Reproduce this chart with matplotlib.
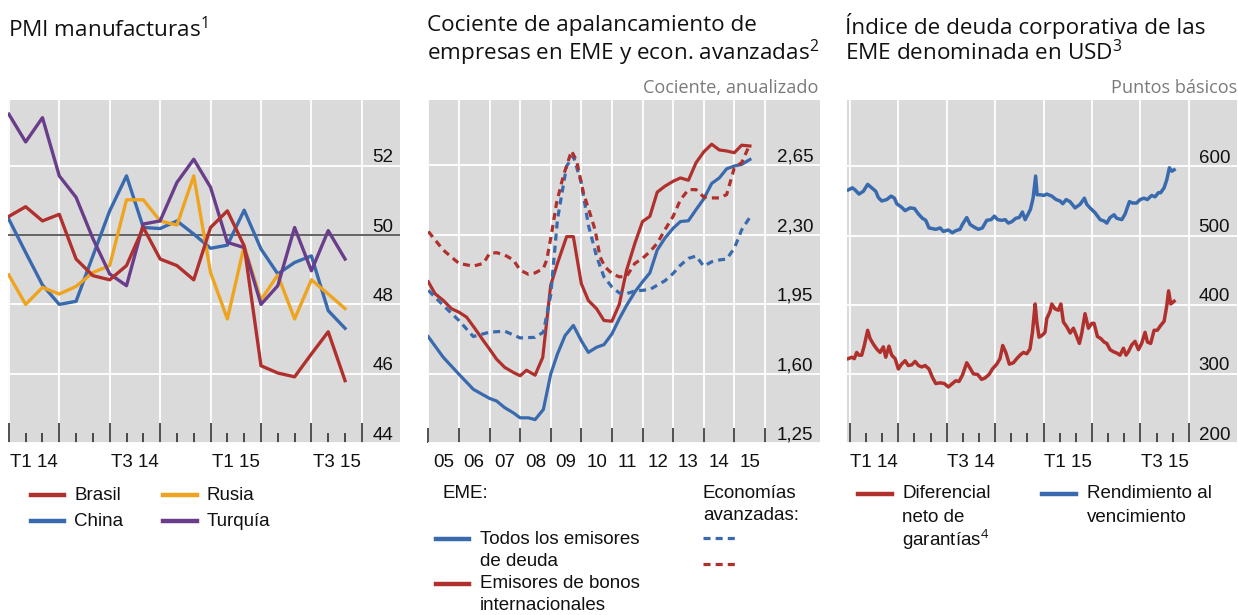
import numpy as np
import matplotlib
matplotlib.use('Agg')
import matplotlib.pyplot as plt
from matplotlib.lines import Line2D
from matplotlib.transforms import blended_transform_factory

W, H = 1238, 615

plt.rcParams['mathtext.fontset'] = 'custom'
plt.rcParams['mathtext.rm'] = 'Open Sans'
plt.rcParams['mathtext.it'] = 'Open Sans:italic'
plt.rcParams['mathtext.bf'] = 'Open Sans:bold'

# colours
RED = '#B0302E'
BLUE = '#3A6AAE'
ORANGE = '#EFA420'
PURPLE = '#6A3D8A'
BG = '#DADADA'

# ---- panel 1: PMI manufacturas (monthly, Jan 2014 - Sep 2015)
pmi_brasil = [50.54, 50.82, 50.41, 50.6, 49.31, 48.83, 48.71, 49.12, 50.22, 49.31, 49.12,
              48.71, 50.22, 50.7, 49.69, 46.23, 46.02, 45.91, 46.57, 47.21, 45.8]
pmi_china = [50.46, 49.5, 48.56, 48.0, 48.09, 49.4, 50.7, 51.71, 50.22, 50.19, 50.41,
             50.03, 49.62, 49.71, 50.72, 49.6, 48.88, 49.21, 49.4, 47.82, 47.31]
pmi_rusia = [48.85, 48.0, 48.49, 48.3, 48.52, 48.92, 49.12, 51.02, 51.02, 50.41, 50.29,
             51.71, 48.92, 47.58, 49.69, 48.13, 48.85, 47.58, 48.71, 48.3, 47.88]
pmi_turquia = [53.49, 52.69, 53.39, 51.71, 51.09, 49.9, 48.88, 48.54, 50.32, 50.41, 51.52,
               52.19, 51.38, 49.79, 49.64, 48.0, 48.54, 50.22, 48.97, 50.13, 49.31]
pmi_yticks = [44, 46, 48, 50, 52]
q_labels = ['T1 14', 'T3 14', 'T1 15', 'T3 15']

# ---- panel 2: leverage ratio (quarterly)
lev_eme_all_x = [2005.0, 2005.49, 2006.0, 2006.47, 2007.0, 2007.23, 2007.5, 2007.78, 2008.0,
                 2008.27, 2008.49, 2008.76, 2009.0, 2009.22, 2009.47, 2009.74, 2010.0, 2010.23,
                 2010.5, 2010.74, 2011.0, 2011.24, 2011.48, 2011.75, 2012.0, 2012.24, 2012.48,
                 2012.73, 2013.0, 2013.24, 2013.5, 2013.75, 2014.0, 2014.26, 2014.51, 2014.75,
                 2015.0, 2015.24, 2015.51]
lev_eme_all = [1.786, 1.682, 1.597, 1.521, 1.475, 1.462, 1.428, 1.402, 1.377, 1.377, 1.368,
               1.419, 1.597, 1.699, 1.792, 1.843, 1.766, 1.707, 1.733, 1.746, 1.8, 1.876,
               1.944, 2.012, 2.063, 2.108, 2.223, 2.283, 2.333, 2.367, 2.371, 2.427, 2.481,
               2.559, 2.587, 2.633, 2.647, 2.655, 2.68]
lev_eme_bond_x = [2005.0, 2005.22, 2005.49, 2005.76, 2006.0, 2006.25, 2006.53, 2006.8, 2007.0,
                  2007.23, 2007.5, 2007.78, 2008.0, 2008.21, 2008.49, 2008.74, 2009.0, 2009.22,
                  2009.52, 2009.74, 2010.0, 2010.23, 2010.5, 2010.74, 2011.0, 2011.24, 2011.48,
                  2011.75, 2012.0, 2012.24, 2012.48, 2012.73, 2013.0, 2013.24, 2013.5, 2013.75,
                  2014.0, 2014.26, 2014.51, 2014.75, 2015.0, 2015.24, 2015.51]
lev_eme_bond = [2.063, 2.003, 1.969, 1.927, 1.91, 1.885, 1.826, 1.766, 1.724, 1.673, 1.631,
                1.606, 1.589, 1.617, 1.592, 1.682, 2.046, 2.156, 2.291, 2.291, 2.054, 1.969,
                1.927, 1.868, 1.864, 1.949, 2.122, 2.257, 2.367, 2.393, 2.515, 2.545, 2.57,
                2.587, 2.575, 2.664, 2.718, 2.757, 2.728, 2.723, 2.714, 2.752, 2.748]
lev_ae_all_x = [2005.0, 2005.49, 2006.0, 2006.47, 2007.0, 2007.5, 2008.0, 2008.49, 2008.76,
                2009.0, 2009.22, 2009.52, 2009.74, 2010.0, 2010.23, 2010.5, 2010.74, 2011.0,
                2011.24, 2011.48, 2011.75, 2012.0, 2012.24, 2012.48, 2012.73, 2013.0, 2013.24,
                2013.5, 2013.75, 2014.0, 2014.26, 2014.51, 2014.75, 2015.0, 2015.24, 2015.51]
lev_ae_all = [2.02, 1.944, 1.868, 1.787, 1.809, 1.814, 1.78, 1.783, 1.809, 1.995, 2.376,
              2.647, 2.697, 2.562, 2.35, 2.19, 2.088, 2.037, 2.007, 2.003, 2.017, 2.02, 2.024,
              2.046, 2.068, 2.105, 2.147, 2.181, 2.193, 2.142, 2.164, 2.173, 2.178, 2.232,
              2.325, 2.389]
lev_ae_bond_x = [2005.0, 2005.49, 2006.0, 2006.47, 2006.8, 2007.0, 2007.23, 2007.5, 2007.78,
                 2008.0, 2008.27, 2008.49, 2008.76, 2008.87, 2009.03, 2009.19, 2009.41, 2009.68,
                 2009.85, 2010.07, 2010.28, 2010.45, 2010.61, 2010.77, 2011.0, 2011.24, 2011.48,
                 2011.75, 2012.0, 2012.24, 2012.48, 2012.73, 2013.0, 2013.24, 2013.5, 2013.75,
                 2014.0, 2014.26, 2014.51, 2014.75, 2015.0, 2015.24, 2015.51]
lev_ae_bond = [2.317, 2.223, 2.156, 2.142, 2.156, 2.206, 2.21, 2.198, 2.173, 2.122, 2.101,
               2.108, 2.13, 2.173, 2.308, 2.46, 2.596, 2.723, 2.672, 2.511, 2.41, 2.325, 2.19,
               2.139, 2.105, 2.088, 2.091, 2.156, 2.181, 2.215, 2.257, 2.325, 2.393, 2.477,
               2.528, 2.528, 2.491, 2.486, 2.486, 2.503, 2.638, 2.664, 2.757]
lev_yticks = [1.25, 1.60, 1.95, 2.30, 2.65]
lev_ylabels = ['1,25', '1,60', '1,95', '2,30', '2,65']
year_labels = ['05', '06', '07', '08', '09', '10', '11', '12', '13', '14', '15']

# ---- panel 3: EME USD corporate index (months since Jan 2014)
spread_x = [-0.1, 0.11, 0.27, 0.42, 0.56, 0.73, 0.89, 1.1, 1.25, 1.45, 1.66, 1.87, 2.07, 2.22,
            2.42, 2.59, 2.8, 3.0, 3.2, 3.42, 3.62, 3.83, 4.04, 4.25, 4.45, 4.66, 4.9, 5.11,
            5.32, 5.59, 5.85, 6.1, 6.35, 6.56, 6.76, 6.97, 7.24, 7.45, 7.65, 7.92, 8.16, 8.37,
            8.62, 8.83, 9.1, 9.3, 9.47, 9.66, 9.88, 10.13, 10.34, 10.54, 10.75, 10.96, 11.16,
            11.31, 11.48, 11.58, 11.72, 11.93, 12.09, 12.2, 12.4, 12.51, 12.71, 12.92, 13.07,
            13.23, 13.44, 13.65, 13.85, 14.02, 14.22, 14.37, 14.57, 14.78, 14.99, 15.13, 15.34,
            15.55, 15.75, 15.92, 16.12, 16.33, 16.54, 16.74, 16.95, 17.11, 17.26, 17.47, 17.67,
            17.88, 18.08, 18.29, 18.44, 18.64, 18.85, 19.05, 19.26, 19.47, 19.64, 19.75, 19.88,
            20.09]
spread = [322, 324, 322, 331, 327, 327, 341, 363, 351, 343, 336, 331, 339, 324, 340, 327, 322,
          307, 314, 319, 312, 313, 318, 312, 310, 312, 307, 295, 286, 287, 286, 281, 286, 290,
          289, 298, 316, 308, 300, 299, 292, 294, 299, 307, 314, 322, 341, 331, 314, 316, 322,
          327, 331, 329, 336, 360, 401, 375, 353, 356, 360, 380, 390, 401, 394, 392, 401, 375,
          368, 359, 366, 356, 344, 359, 387, 366, 373, 373, 354, 351, 346, 344, 335, 332, 330,
          327, 337, 327, 332, 342, 347, 335, 344, 360, 346, 344, 363, 363, 370, 376, 399, 420,
          401, 405]
ytm_x = [-0.1, 0.15, 0.32, 0.56, 0.83, 1.1, 1.35, 1.6, 1.76, 1.97, 2.28, 2.55, 2.76, 2.9, 3.2,
         3.42, 3.73, 4.0, 4.25, 4.49, 4.7, 4.9, 5.11, 5.32, 5.59, 5.79, 6.1, 6.35, 6.56, 6.82,
         6.97, 7.24, 7.45, 7.71, 7.96, 8.21, 8.48, 8.75, 8.95, 9.16, 9.41, 9.62, 9.82, 10.03,
         10.28, 10.49, 10.69, 10.86, 11.02, 11.19, 11.35, 11.51, 11.6, 11.78, 12.03, 12.2,
         12.51, 12.78, 13.02, 13.19, 13.4, 13.64, 13.95, 14.26, 14.53, 14.68, 14.88, 15.19,
         15.51, 15.75, 15.92, 16.12, 16.37, 16.53, 16.85, 17.05, 17.32, 17.52, 17.77, 17.98,
         18.23, 18.43, 18.7, 18.91, 19.12, 19.26, 19.47, 19.64, 19.8, 19.95, 20.09]
ytm = [566, 569, 566, 560, 564, 574, 569, 564, 555, 550, 552, 557, 554, 546, 541, 536, 540,
       539, 531, 525, 522, 511, 510, 509, 511, 506, 508, 504, 507, 509, 516, 526, 516, 512,
       509, 511, 522, 523, 528, 523, 522, 523, 518, 520, 525, 526, 534, 523, 530, 538, 554,
       586, 559, 559, 558, 560, 557, 552, 550, 546, 552, 549, 540, 545, 554, 545, 540, 533,
       523, 521, 518, 526, 530, 525, 523, 531, 549, 547, 547, 552, 554, 552, 558, 556, 562,
       562, 569, 581, 598, 593, 595]
idx_yticks = [200, 300, 400, 500, 600]

SANS = ['Liberation Sans', 'DejaVu Sans']
TITLE = ['Open Sans', 'DejaVu Sans']
FS = 13.5

fig = plt.figure(figsize=(W / 100, H / 100), dpi=100)


def add_ax(left, right, top=100, bottom=443):
    return fig.add_axes([left / W, 1 - bottom / H, (right - left) / W, (bottom - top) / H])


def style(ax, yticks, ylabels, major_len, minor_len=0):
    ax.set_facecolor(BG)
    for s in ax.spines.values():
        s.set_visible(False)
    ax.set_yticks(yticks)
    ax.tick_params(axis='y', length=0, labelleft=False)
    ax.tick_params(axis='x', which='major', direction='in', length=major_len, width=1.1,
                   color='#222222', labelbottom=False)
    ax.tick_params(axis='x', which='minor', direction='in', length=minor_len, width=1.1,
                   color='#222222')
    ax.grid(True, which='major', color='white', linewidth=1.3)
    ax.set_axisbelow(True)
    tr = blended_transform_factory(ax.transAxes, ax.transData)
    for v, lab in zip(yticks, ylabels):
        ax.annotate(lab, xy=(0.983, v), xycoords=tr, xytext=(0, 2.5),
                    textcoords='offset points', ha='right', va='baseline',
                    fontsize=FS, family=SANS, color='#111111')


def xlabels(ax, positions, labels):
    tr = blended_transform_factory(ax.transData, ax.transAxes)
    for p, lab in zip(positions, labels):
        ax.annotate(lab, xy=(p, 0), xycoords=tr, xytext=(0, -14),
                    textcoords='offset points', ha='center', va='center',
                    fontsize=FS, family=SANS, color='#111111')


# ---------------- panel 1
ax1 = add_ax(8, 400)
m = np.arange(len(pmi_brasil))
lw = 2.4
ax1.plot(m, pmi_china, color=BLUE, lw=lw, zorder=3)
ax1.plot(m, pmi_rusia, color=ORANGE, lw=lw, zorder=3)
ax1.plot(m, pmi_turquia, color=PURPLE, lw=lw, zorder=3)
ax1.plot(m, pmi_brasil, color=RED, lw=lw, zorder=4)
ax1.axhline(50, color='#3a3a3a', lw=1.1, zorder=2)
ax1.set_xlim(-0.05, 23.27)
ax1.set_ylim(44, 53.9)
ax1.set_xticks(np.arange(0, 22, 3))
ax1.set_xticks(np.arange(0, 21), minor=True)
style(ax1, pmi_yticks, [str(v) for v in pmi_yticks], 14.4, 7.2)
xlabels(ax1, [1.5, 7.5, 13.5, 19.5], q_labels)

# ---------------- panel 2
ax2 = add_ax(428.3, 820)
ax2.plot(lev_eme_all_x, lev_eme_all, color=BLUE, lw=2.3, zorder=3)
ax2.plot(lev_eme_bond_x, lev_eme_bond, color=RED, lw=2.3, zorder=3)
ax2.plot(lev_ae_all_x, lev_ae_all, color=BLUE, lw=2.3, dashes=(2.2, 1.6), zorder=3)
ax2.plot(lev_ae_bond_x, lev_ae_bond, color=RED, lw=2.3, dashes=(2.2, 1.6), zorder=3)
ax2.set_xlim(2005.0, 2017.8)
ax2.set_ylim(1.25, 2.98)
ax2.set_xticks(np.arange(2005, 2017))
style(ax2, lev_yticks, lev_ylabels, 10.8)
xlabels(ax2, np.arange(2005.5, 2016), year_labels)

# ---------------- panel 3
ax3 = add_ax(846.7, 1236.7)
ax3.plot(spread_x, spread, color=RED, lw=2.5, zorder=3)
ax3.plot(ytm_x, ytm, color=BLUE, lw=2.5, zorder=3)
ax3.set_xlim(-0.2, 23.97)
ax3.set_ylim(200, 696)
ax3.set_xticks(np.arange(0, 22, 3))
ax3.set_xticks(np.arange(0, 21), minor=True)
style(ax3, idx_yticks, [str(v) for v in idx_yticks], 14.4, 7.2)
xlabels(ax3, [1.5, 7.5, 13.5, 19.5], q_labels)


# ---------------- titles and notes (pixel coords from top-left)
def ftext(x, y, s, **kw):
    kw.setdefault('fontsize', FS)
    kw.setdefault('family', SANS)
    kw.setdefault('color', '#111111')
    kw.setdefault('va', 'center')
    fig.text(x / W, 1 - y / H, s, **kw)


def fline(x0, x1, y, color, **kw):
    fig.add_artist(Line2D([x0 / W, x1 / W], [1 - y / H, 1 - y / H], color=color,
                          lw=kw.pop('lw', 3.2), transform=fig.transFigure, **kw))


TFS = 16.2
ftext(8, 30, 'PMI manufacturas$^1$', fontsize=TFS, family=TITLE)
ftext(427, 26, 'Cociente de apalancamiento de', fontsize=TFS, family=TITLE)
ftext(427, 53, 'empresas en EME y econ. avanzadas$^2$', fontsize=TFS, family=TITLE)
ftext(845, 26, '\u00cdndice de deuda corporativa de las', fontsize=TFS, family=TITLE)
ftext(845, 53, 'EME denominada en USD$^3$', fontsize=TFS, family=TITLE)
ftext(818, 88, 'Cociente, anualizado', fontsize=13.1, family=TITLE, color='#7a7a7a', ha='right')
ftext(1237, 88, 'Puntos b\u00e1sicos', fontsize=13.1, family=TITLE, color='#7a7a7a', ha='right')

# legend panel 1
fline(31, 64, 495, RED)
ftext(74, 495, 'Brasil')
fline(163, 197, 495, ORANGE)
ftext(207, 495, 'Rusia')
fline(31, 64, 521, BLUE)
ftext(74, 521, 'China')
fline(163, 197, 521, PURPLE)
ftext(207, 521, 'Turqu\u00eda')

# legend panel 2
ftext(442, 493, 'EME:')
fline(436, 469, 539, BLUE)
ftext(480, 539, 'Todos los emisores')
ftext(480, 561, 'de deuda')
fline(436, 469, 584, RED)
ftext(480, 584, 'Emisores de bonos')
ftext(480, 606, 'internacionales')
ftext(703, 493, 'Econom\u00edas')
ftext(703, 515, 'avanzadas:')
fline(703, 738, 538, BLUE, dashes=(2.2, 1.6), lw=2.3)
fline(703, 738, 564, RED, dashes=(2.2, 1.6), lw=2.3)

# legend panel 3
fline(858, 892, 494, RED)
ftext(902, 494, 'Diferencial')
ftext(902, 517, 'neto de')
ftext(902, 540, 'garant\u00edas$^4$')
fline(1042, 1076, 494, BLUE)
ftext(1087, 494, 'Rendimiento al')
ftext(1087, 517, 'vencimiento')

fig.savefig('out.png', dpi=100)
